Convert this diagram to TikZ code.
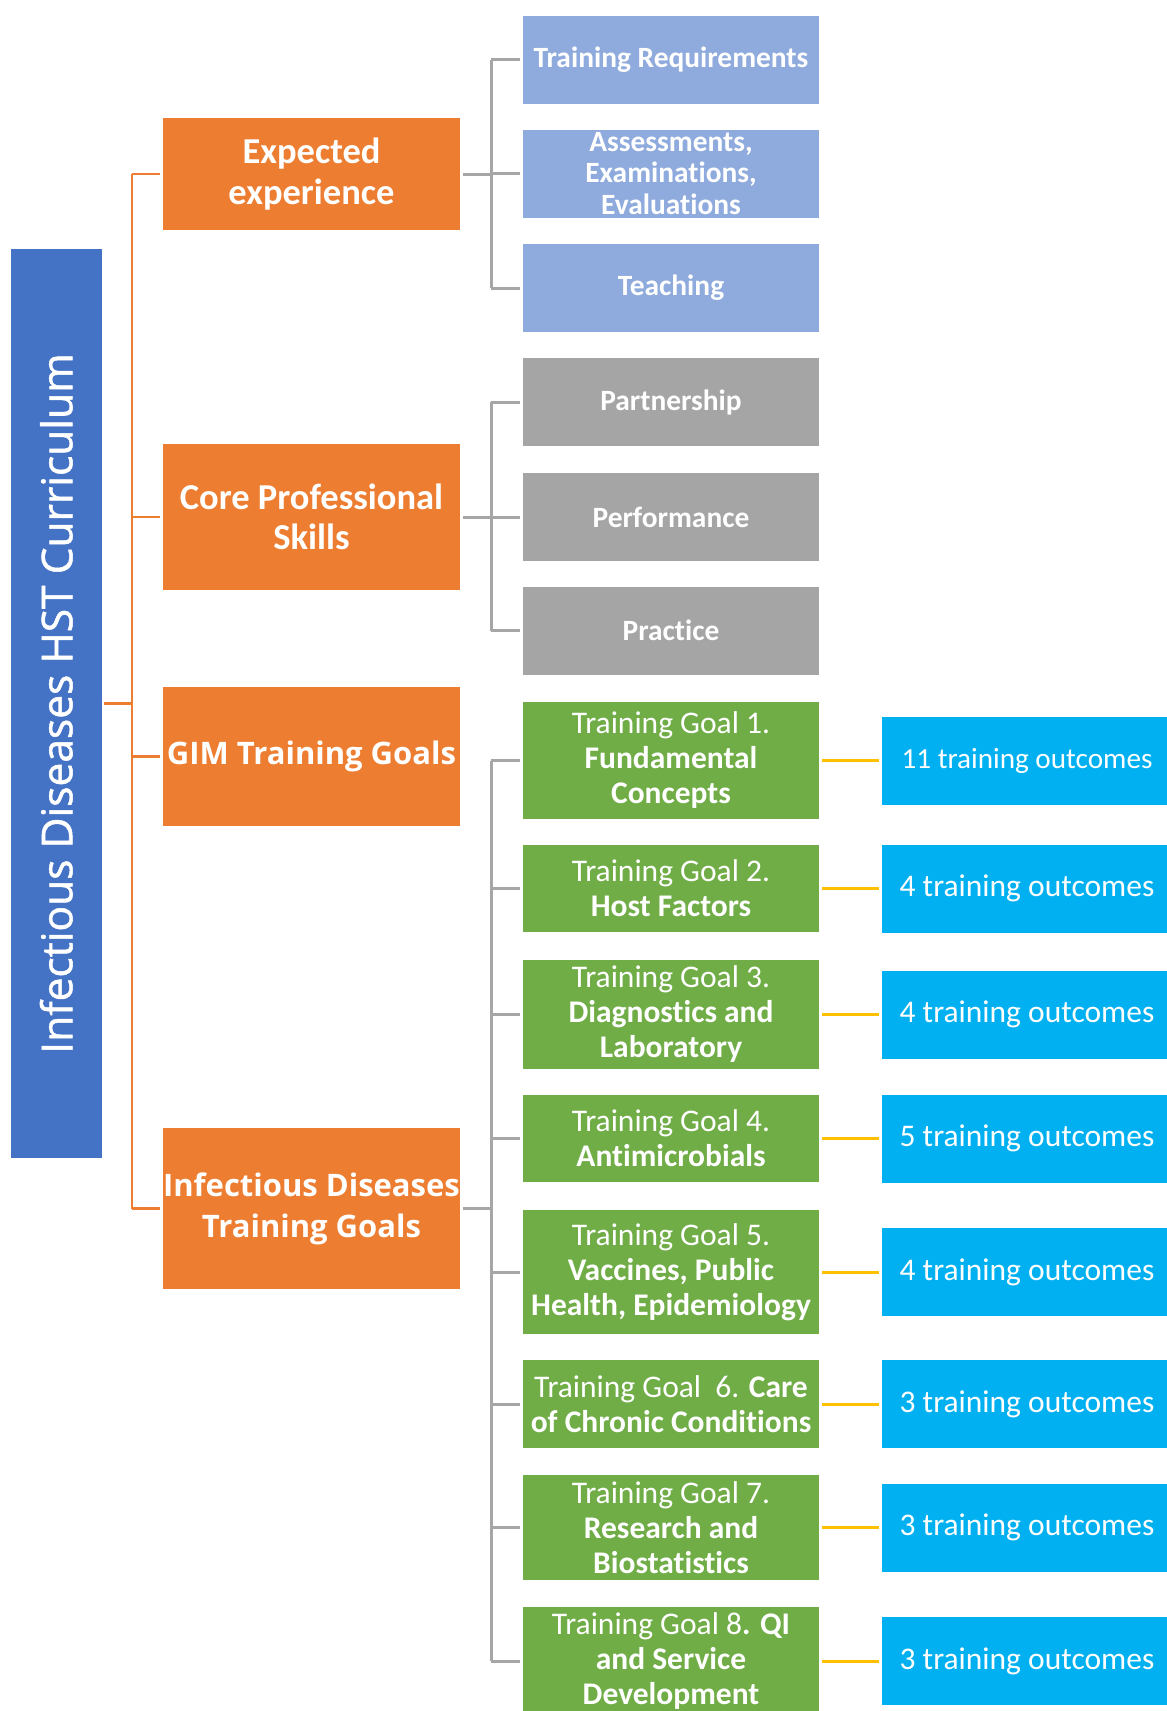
\documentclass[tikz,border=0pt]{standalone}
\usepackage{fontspec}
\setmainfont{Carlito}[Ligatures=NoCommon]
\newfontfamily\osans{Open Sans}
\newfontfamily\osansfb{Open Sans}[FakeBold=1.2]
\definecolor{cOrange}{HTML}{ED7D31}
\definecolor{cRoot}{HTML}{4472C4}
\definecolor{cLBlue}{HTML}{8FAADC}
\definecolor{cGray}{HTML}{A5A5A5}
\definecolor{cGreen}{HTML}{70AD47}
\definecolor{cCyan}{HTML}{00B0F0}
\definecolor{cYellow}{HTML}{FFC000}
\definecolor{cLine}{HTML}{A6A6A6}
\begin{document}
\begin{tikzpicture}[x=1pt,y=-1pt,
  box/.style={rectangle, inner sep=0pt, text=white, align=center},
  rootbox/.style={box, fill=cRoot, font=\osansfb\fontsize{42.5}{48}\selectfont},
  orangebox/.style={box, fill=cOrange, minimum width=297pt, font=\fontsize{36.5}{40.5}\selectfont\bfseries},
  gimbox/.style={box, fill=cOrange, minimum width=297pt, font=\osans\fontsize{31}{41}\selectfont\bfseries},
  bluebox/.style={box, fill=cLBlue, minimum width=296pt, minimum height=88pt, font=\fontsize{29.4}{31.7}\selectfont\bfseries},
  graybox/.style={box, fill=cGray, minimum width=296pt, minimum height=88pt, font=\fontsize{29.4}{31.7}\selectfont\bfseries},
  greenbox/.style={box, fill=cGreen, minimum width=296pt, font=\fontsize{31.5}{35}\selectfont},
  cyanbox/.style={box, fill=cCyan, minimum width=290pt, minimum height=88pt, font=\fontsize{31.5}{35}\selectfont},
  oline/.style={draw=cOrange, line width=2.5pt},
  gline/.style={draw=cLine, line width=3pt},
  yline/.style={draw=cYellow, line width=3pt}]
\useasboundingbox (0,0) rectangle (1167,1711);
\fill[white] (0,0) rectangle (1167,1711);

% root
\node[rootbox, rotate=90, minimum width=909pt, minimum height=90.5pt] (root) at (56.25,703.5) {Infectious Diseases HST Curriculum};

% level 1
\node[orangebox, minimum height=112pt] (ee) at (311.5,174) {Expected\\experience};
\node[orangebox, minimum height=146pt] (cps) at (311.5,517) {Core Professional\\Skills};
\node[gimbox, minimum height=139pt] (gim) at (311.5,756.5) {GIM Training Goals};
\node[gimbox, minimum height=161pt] (idtg) at (311.5,1208.5) {Infectious Diseases\\Training Goals};

% level 2: expected experience
\node[bluebox] (tr) at (671,59.5) {Training Requirements};
\node[bluebox] (ass) at (671,173.5) {Assessments,\\Examinations,\\Evaluations};
\node[bluebox] (teach) at (671,288) {Teaching};

% level 2: core professional skills
\node[graybox] (part) at (671,402) {Partnership};
\node[graybox] (perf) at (671,517) {Performance};
\node[graybox] (prac) at (671,630.5) {Practice};

% level 2: ID training goals
\node[greenbox, minimum height=117pt] (g1) at (671,760.5) {Training Goal 1.\\\textbf{Fundamental}\\\textbf{Concepts}};
\node[greenbox, minimum height=87pt] (g2) at (671,888.5) {Training Goal 2.\\\textbf{Host Factors}};
\node[greenbox, minimum height=109pt] (g3) at (671,1014.5) {Training Goal 3.\\\textbf{Diagnostics and}\\\textbf{Laboratory}};
\node[greenbox, minimum height=87pt] (g4) at (671,1138.5) {Training Goal 4.\\\textbf{Antimicrobials}};
\node[greenbox, minimum height=124pt] (g5) at (671,1272) {Training Goal 5.\\\textbf{Vaccines, Public}\\\textbf{Health, Epidemiology}};
\node[greenbox, minimum height=88pt] (g6) at (671,1404) {Training Goal\ \ 6. \textbf{Care}\\\textbf{of Chronic Conditions}};
\node[greenbox, minimum height=105pt] (g7) at (671,1527.5) {Training Goal 7.\\\textbf{Research and}\\\textbf{Biostatistics}};
\node[greenbox, minimum height=108pt] (g8) at (671,1661) {Training Goal 8\textbf{. QI}\\\textbf{and Service}\\\textbf{Development}};

% level 3: outcomes
\node[cyanbox, font=\fontsize{29.2}{35}\selectfont] (c1) at (1027,760.5) {11 training outcomes};
\node[cyanbox] (c2) at (1027,888.5) {4 training outcomes};
\node[cyanbox] (c3) at (1027,1014.5) {4 training outcomes};
\node[cyanbox] (c4) at (1027,1138.5) {5 training outcomes};
\node[cyanbox] (c5) at (1027,1272) {4 training outcomes};
\node[cyanbox] (c6) at (1027,1404) {3 training outcomes};
\node[cyanbox] (c7) at (1027,1527.5) {3 training outcomes};
\node[cyanbox] (c8) at (1027,1661) {3 training outcomes};

% orange connectors
\coordinate (ot) at (132,0);
\draw[oline] ([xshift=2pt]root.south) -- (root.south -| ot);
\draw[oline] (ot |- ee.west) -- (ot |- idtg.west);
\foreach \n in {ee,cps,gim,idtg}
  \draw[oline] (ot |- \n.west) -- ([xshift=-3pt]\n.west);

% gray connectors
\coordinate (gt) at (491,0);
\draw[gline] ([xshift=3pt]ee.east) -- (ee.east -| gt);
\draw[gline] (gt |- tr.west) -- (gt |- teach.west);
\foreach \n in {tr,ass,teach}
  \draw[gline] (gt |- \n.west) -- ([xshift=-3pt]\n.west);

\draw[gline] ([xshift=3pt]cps.east) -- (cps.east -| gt);
\draw[gline] (gt |- part.west) -- (gt |- prac.west);
\foreach \n in {part,perf,prac}
  \draw[gline] (gt |- \n.west) -- ([xshift=-3pt]\n.west);

\draw[gline] ([xshift=3pt]idtg.east) -- (idtg.east -| gt);
\draw[gline] (gt |- g1.west) -- (gt |- g8.west);
\foreach \n in {g1,g2,g3,g4,g5,g6,g7,g8}
  \draw[gline] (gt |- \n.west) -- ([xshift=-3pt]\n.west);

% yellow connectors
\foreach \i in {1,...,8}
  \draw[yline] ([xshift=3pt]g\i.east) -- ([xshift=-3pt]c\i.west);
\end{tikzpicture}
\end{document}
